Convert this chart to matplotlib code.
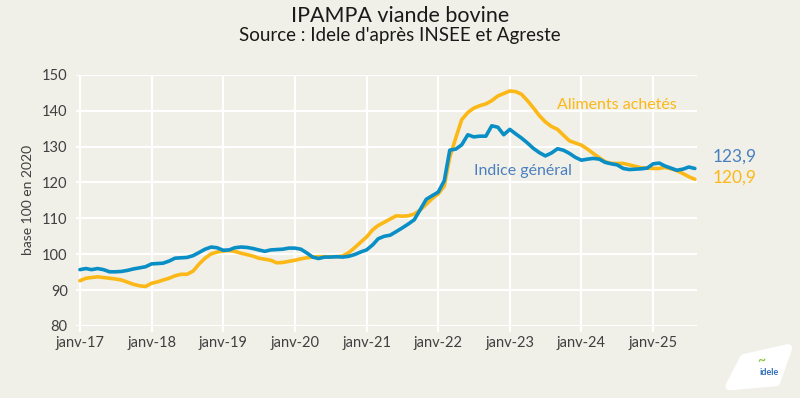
import numpy as np
import pandas as pd
import matplotlib
matplotlib.use('Agg')
import matplotlib.pyplot as plt
import matplotlib.transforms as mtransforms
from matplotlib.patches import Polygon

# Données mensuelles janv-17 -> août-25
mois = pd.date_range('2017-01-01', periods=104, freq='MS')

indice_general = [
    95.7, 96.0, 95.7, 96.0, 95.7, 95.1, 95.1, 95.2, 95.5, 95.9, 96.2, 96.5,
    97.3, 97.4, 97.5, 98.1, 98.9, 99.0, 99.1, 99.6, 100.5, 101.4, 102.0, 101.8,
    101.1, 101.2, 101.8, 102.0, 101.9, 101.6, 101.2, 100.8, 101.2, 101.3, 101.4, 101.7,
    101.7, 101.4, 100.4, 99.2, 98.8, 99.2, 99.2, 99.3, 99.2, 99.4, 99.9, 100.6,
    101.2, 102.6, 104.3, 105.0, 105.3, 106.3, 107.3, 108.4, 109.6, 112.4, 115.3, 116.3,
    117.3, 120.5, 129.0, 129.3, 130.5, 133.3, 132.7, 132.9, 132.9, 135.8, 135.4, 133.3,
    134.8, 133.5, 132.4, 131.0, 129.5, 128.3, 127.4, 128.2, 129.4, 129.0, 128.1, 127.0,
    126.2, 126.5, 126.7, 126.5, 125.6, 125.2, 124.9, 123.9, 123.6, 123.7, 123.8, 124.0,
    125.2, 125.4, 124.6, 124.0, 123.4, 123.7, 124.3, 123.9,
]

aliments_achetes = [
    92.6, 93.3, 93.5, 93.7, 93.5, 93.3, 93.1, 92.8, 92.2, 91.6, 91.2, 91.0,
    91.9, 92.3, 92.8, 93.3, 94.0, 94.4, 94.4, 95.3, 97.3, 98.9, 100.1, 100.6,
    100.9, 101.0, 100.8, 100.3, 99.9, 99.5, 98.9, 98.6, 98.3, 97.6, 97.7, 98.0,
    98.3, 98.7, 99.0, 99.2, 99.3, 99.3, 99.3, 99.3, 99.5, 100.4, 101.8, 103.3,
    104.8, 106.8, 108.0, 108.9, 109.8, 110.7, 110.6, 110.7, 111.2, 112.3, 113.9, 115.5,
    116.8, 119.0, 127.0, 132.5, 137.5, 139.5, 140.7, 141.4, 141.9, 142.8, 144.1, 144.8,
    145.5, 145.3, 144.6, 142.8, 140.8, 138.6, 136.9, 135.6, 134.8, 133.2, 131.6, 131.0,
    130.4, 129.3, 128.1, 126.9, 125.8, 125.3, 125.3, 125.3, 124.9, 124.5, 124.1, 124.0,
    123.9, 123.9, 124.2, 123.8, 123.3, 122.5, 121.6, 120.9,
]

annees = pd.date_range('2017-01-01', '2025-01-01', freq='YS')
etiquettes = ['janv-%02d' % (d.year % 100) for d in annees]

bleu = '#0a8ec6'
orange = '#fbb817'
bleu_txt = '#4a7fc0'
fond = '#f0f0e8'

plt.rcParams['font.family'] = ['Lato', 'DejaVu Sans']

fig = plt.figure(figsize=(8, 3.98), dpi=100, facecolor=fond)
ax = fig.add_axes([0.095, 0.181, 0.776, 0.631], facecolor=fond)

ax.plot(mois, aliments_achetes, color=orange, lw=2.6, solid_capstyle='round', zorder=3)
ax.plot(mois, indice_general, color=bleu, lw=2.6, solid_capstyle='round', zorder=4)

ax.set_ylim(80, 150)
ax.set_yticks(range(80, 151, 10))
ax.set_xlim(mois[0] - pd.Timedelta(days=20), mois[-1] + pd.Timedelta(days=10))
ax.set_xticks(annees)
ax.set_xticklabels(etiquettes)
ax.grid(True, color='white', lw=1.6, zorder=0)
ax.set_axisbelow(True)
for s in ax.spines.values():
    s.set_visible(False)
ax.tick_params(axis='x', colors='white', length=4, width=1.6, labelcolor='#404040', labelsize=10.5, pad=3)
ax.tick_params(axis='y', length=0, labelcolor='#404040', labelsize=10.5, pad=6)
ax.set_ylabel('base 100 en 2020', fontsize=10, color='#404040', labelpad=6)

# Titres
fig.text(0.5, 0.96, 'IPAMPA viande bovine', ha='center', va='center', fontsize=15.5, color='#1a1a1a')
fig.text(0.5, 0.91, "Source : Idele d'après INSEE et Agreste", ha='center', va='center', fontsize=13.5, color='#1a1a1a')

# Étiquettes des séries
ax.text(pd.Timestamp('2023-09-01'), 141.6, 'Aliments achetés', color=orange, fontsize=11.5, va='center', ha='left')
ax.text(pd.Timestamp('2022-07-01'), 123.1, 'Indice général', color=bleu_txt, fontsize=11.5, va='center', ha='left')
tr = mtransforms.blended_transform_factory(ax.transAxes, ax.transData)
ax.text(1.025, indice_general[-1] + 3.4, ('%.1f' % indice_general[-1]).replace('.', ','),
        transform=tr, color=bleu_txt, fontsize=12.5, va='center', ha='left')
ax.text(1.025, aliments_achetes[-1] + 0.5, ('%.1f' % aliments_achetes[-1]).replace('.', ','),
        transform=tr, color=orange, fontsize=12.5, va='center', ha='left')

# Petit logo
logo = Polygon([(0.912, 0.03), (0.97, 0.04), (0.985, 0.125), (0.93, 0.10)], closed=True,
               transform=fig.transFigure, facecolor='white', edgecolor='white', lw=6, joinstyle='round')
fig.patches.append(logo)
fig.text(0.962, 0.065, 'idele', ha='center', va='center', fontsize=6.5, color='#2f6db5', weight='bold')
fig.text(0.952, 0.095, '~', ha='center', va='center', fontsize=10, color='#8cc63f', weight='bold')

fig.savefig('out.png', dpi=100, facecolor=fond)
